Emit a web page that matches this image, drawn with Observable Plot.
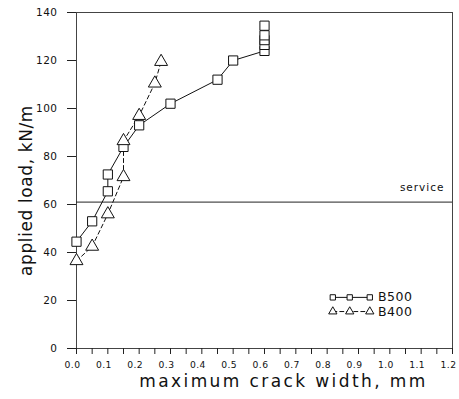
<!DOCTYPE html>
<html>
<head>
<meta charset="utf-8">
<script src="https://cdn.jsdelivr.net/npm/d3@7"></script>
<script src="https://cdn.jsdelivr.net/npm/@observablehq/plot@0.6"></script>
<style>
  html, body { margin: 0; padding: 0; background: #fff; }
  #chart { width: 459px; height: 399px; }
  svg { font-family: "DejaVu Sans", sans-serif; }
</style>
</head>
<body>
<div id="chart"></div>
<script>
// B500 series
const b500Width = [0.0, 0.05, 0.1, 0.1, 0.15, 0.2, 0.3, 0.45, 0.5, 0.6, 0.6, 0.6, 0.6, 0.6];
const b500Load  = [44.5, 53, 65.5, 72.5, 84, 93, 102, 112, 120, 124, 126.5, 128.5, 130.5, 134.5];
// B400 series
const b400Width = [0.0, 0.05, 0.1, 0.15, 0.15, 0.2, 0.25, 0.27];
const b400Load  = [36.5, 42.5, 56, 71.5, 86.5, 97, 110.5, 119.5];
// service load level
const serviceLoad = 61;
const serviceLabel = "service";
// axis ticks
const xTicksMinor = d3.range(0, 1.2001, 0.05).map(v => +v.toFixed(2));
const xTicksMajor = d3.range(0, 1.2001, 0.1).map(v => +v.toFixed(1));
const yTicks = [0, 20, 40, 60, 80, 100, 120, 140];
const xLabel = "maximum crack width, mm";
const yLabel = "applied load, kN/m";
// legend entries (placed in data space, lower right)
const legendNames = ["B500", "B400"];
const legendLoads = [21.3, 15.4];
const legendSymbolX = [0.818, 0.872, 0.936];
const legendTextX = 0.962;

const b500 = b500Width.map((w, i) => ({w, load: b500Load[i]}));
const b400 = b400Width.map((w, i) => ({w, load: b400Load[i]}));

const legSym = [];
legendNames.forEach((n, i) => legendSymbolX.forEach(x => legSym.push({w: x, load: legendLoads[i], s: n})));
const legLines = legendNames.map((n, i) => [{w: legendSymbolX[0], load: legendLoads[i]}, {w: legendSymbolX[2], load: legendLoads[i]}]);

const plot = Plot.plot({
  width: 459,
  height: 399,
  marginLeft: 76,
  marginRight: 7,
  marginTop: 12,
  marginBottom: 51,
  style: {fontFamily: "DejaVu Sans, sans-serif", background: "#fff", color: "#111"},
  x: {domain: [0, 1.2]},
  y: {domain: [0, 140]},
  marks: [
    Plot.frame({stroke: "#444", strokeWidth: 1}),
    Plot.ruleY([serviceLoad], {stroke: "#222", strokeWidth: 1}),
    Plot.text([serviceLabel], {x: () => 1.2, y: () => serviceLoad, text: d => d, textAnchor: "end", dx: -8, dy: -14, fontSize: 10.5, fill: "#111", className: "ls1"}),
    Plot.axisX({ticks: xTicksMinor, tickSize: 6, tickFormat: () => "", stroke: "#222", label: null}),
    Plot.axisX({ticks: xTicksMajor, tickSize: 0, tickPadding: 13, dx: -4, tickFormat: d3.format(".1f"), fontSize: 9.2, label: null, className: "ls04"}),
    Plot.axisY({ticks: yTicks, tickSize: 9, tickPadding: 10, fontSize: 10.5, label: null, stroke: "#222", className: "ls05"}),
    Plot.text([xLabel], {frameAnchor: "bottom", dy: 38, dx: 19, text: d => d, fontSize: 17, fill: "#111", className: "ls24"}),
    Plot.text([yLabel], {frameAnchor: "left", textAnchor: "middle", dx: -50, dy: 10, rotate: -90, text: d => d, fontSize: 17, fill: "#111", className: "ls06"}),
    Plot.line(b500, {x: "w", y: "load", stroke: "#111", strokeWidth: 1}),
    Plot.line(b400, {x: "w", y: "load", stroke: "#111", strokeWidth: 1, strokeDasharray: "4,3"}),
    Plot.dot(b500, {x: "w", y: "load", symbol: "square", r: 5.2, fill: "white", stroke: "#111", strokeWidth: 1}),
    Plot.dot(b400, {x: "w", y: "load", symbol: "triangle", r: 4.8, fill: "white", stroke: "#111", strokeWidth: 1}),
    // legend
    Plot.line(legLines[0], {x: "w", y: "load", stroke: "#111", strokeWidth: 1}),
    Plot.line(legLines[1], {x: "w", y: "load", stroke: "#111", strokeWidth: 1, strokeDasharray: "4,3"}),
    Plot.dot(legSym, {x: "w", y: "load", symbol: d => d.s === "B500" ? "square" : "triangle", r: d => d.s === "B500" ? 3.8 : 4, fill: "white", stroke: "#111", strokeWidth: 1}),
    Plot.text(legendNames, {x: () => legendTextX, y: (d, i) => legendLoads[i], text: d => d, textAnchor: "start", fontSize: 12.5, fill: "#111", className: "ls05"})
  ]
});
const ls = {ls04: "0.4px", ls05: "0.5px", ls06: "0.6px", ls1: "1px", ls24: "2.4px"};
Object.entries(ls).forEach(([c, v]) => plot.querySelectorAll("." + c + " text, text." + c + ", g." + c + " text").forEach(t => t.style.letterSpacing = v));
document.getElementById("chart").appendChild(plot);
</script>
</body>
</html>
